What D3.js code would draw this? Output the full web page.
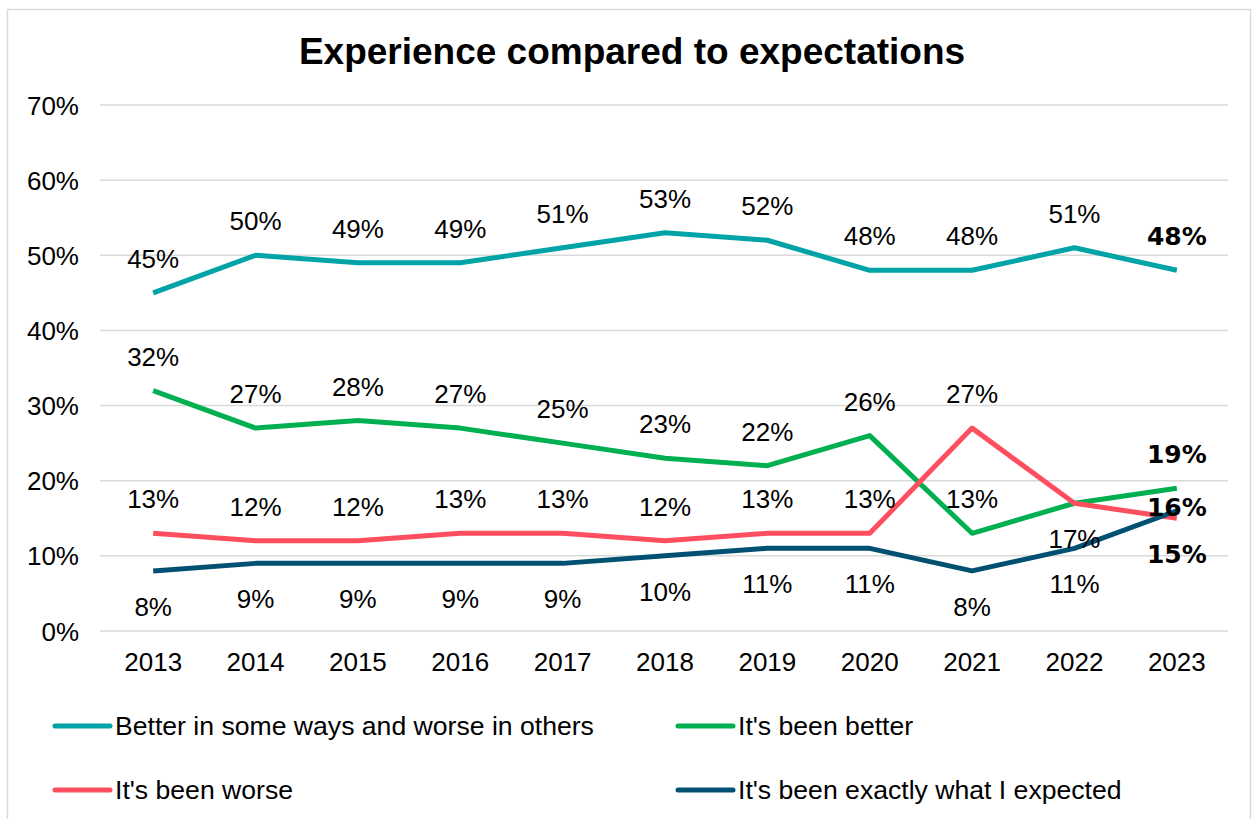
<!DOCTYPE html>
<html>
<head>
<meta charset="utf-8">
<script src="https://cdn.jsdelivr.net/npm/d3@7"></script>
<style>
	body { margin: 0; background: #fff; }
	svg { font-family: "Liberation Sans", Arial, sans-serif; }
	.grid line { stroke: #d9d9d9; stroke-width: 1.5; }
	.axis text { font-size: 26px; fill: #000; font-family: "Liberation Sans", Arial, sans-serif; }
	.lbl { font-size: 26px; fill: #000; }
	.lbl.last { font-family: "DejaVu Sans", sans-serif; font-weight: bold; font-size: 25px; }
</style>
</head>
<body>
<svg width="1255" height="819"></svg>
<script>
var years = ["2013","2014","2015","2016","2017","2018","2019","2020","2021","2022","2023"];
var mixed    = [45, 50, 49, 49, 51, 53, 52, 48, 48, 51, 48];
var better   = [32, 27, 28, 27, 25, 23, 22, 26, 13, 17, 19];
var worse    = [13, 12, 12, 13, 13, 12, 13, 13, 27, 17, 15];
var expected = [8, 9, 9, 9, 9, 10, 11, 11, 8, 11, 16];
var yTicks = [0, 10, 20, 30, 40, 50, 60, 70];

// where each label sits relative to its point: up, down, on, or none
var series = [
	{name: "Better in some ways and worse in others", values: mixed, color: "#00a3a6",
		pos: ["up","up","up","up","up","up","up","up","up","up","up"]},
	{name: "It's been better", values: better, color: "#00b050",
		pos: ["up","up","up","up","up","up","up","up","up","down","up"]},
	{name: "It's been worse", values: worse, color: "#ff4f5e",
		pos: ["up","up","up","up","up","up","up","up","up","none","down"]},
	{name: "It's been exactly what I expected", values: expected, color: "#005072",
		pos: ["down","down","down","down","down","down","down","down","down","down","on"]}
];

var svg = d3.select("svg"),
	width = +svg.attr("width"),
	height = +svg.attr("height");

svg.append("rect")
	.attr("x", 7.5).attr("y", 9.5)
	.attr("width", 1243).attr("height", 820)
	.attr("fill", "none")
	.attr("stroke", "#d9d9d9")
	.attr("stroke-width", 1.5);

svg.append("text")
	.attr("x", 632).attr("y", 64)
	.attr("text-anchor", "middle")
	.style("font-size", "37px")
	.style("font-weight", "bold")
	.text("Experience compared to expectations");

var x = d3.scaleBand()
	.domain(years)
	.range([102, 1228]);

var y = d3.scaleLinear()
	.domain([0, 70])
	.range([631, 105]);

var grid = svg.append("g").attr("class", "grid");
grid.selectAll("line")
	.data(yTicks).enter()
	.append("line")
	.attr("x1", 100).attr("x2", 1228)
	.attr("y1", function(d) { return y(d); })
	.attr("y2", function(d) { return y(d); });

var yAxis = svg.append("g")
	.attr("class", "axis")
	.attr("transform", "translate(79,0)")
	.call(d3.axisLeft(y).tickValues(yTicks).tickSize(0).tickPadding(0)
		.tickFormat(function(d) { return d + "%"; }));
yAxis.select(".domain").remove();
yAxis.selectAll("text").attr("dy", "0.35em");

var xAxis = svg.append("g")
	.attr("class", "axis")
	.attr("transform", "translate(0,631)")
	.call(d3.axisBottom(x).tickSize(0).tickPadding(22));
xAxis.select(".domain").remove();

var line = d3.line()
	.x(function(d, i) { return x(years[i]) + x.bandwidth() / 2; })
	.y(function(d) { return y(d); });

svg.append("g").selectAll("path")
	.data(series).enter()
	.append("path")
	.attr("d", function(s) { return line(s.values); })
	.attr("fill", "none")
	.attr("stroke", function(s) { return s.color; })
	.attr("stroke-width", 5)
	.attr("stroke-linejoin", "round");

var offsets = {up: -34, down: 36, on: -4};
series.forEach(function(s) {
	svg.append("g").selectAll("text")
		.data(s.values.map(function(v, i) { return {v: v, i: i, pos: s.pos[i]}; })
			.filter(function(d) { return d.pos !== "none"; }))
		.enter()
		.append("text")
		.attr("class", function(d) { return d.i === years.length - 1 ? "lbl last" : "lbl"; })
		.attr("x", function(d) { return x(years[d.i]) + x.bandwidth() / 2; })
		.attr("y", function(d) { return y(d.v) + offsets[d.pos]; })
		.attr("dy", "0.35em")
		.attr("text-anchor", "middle")
		.text(function(d) { return d.v + "%"; });
});

var legendPos = [[55, 726], [678, 726], [55, 790], [678, 790]];
var legend = svg.append("g").selectAll("g")
	.data(series).enter()
	.append("g")
	.attr("transform", function(d, i) { return "translate(" + legendPos[i][0] + "," + legendPos[i][1] + ")"; });
legend.append("line")
	.attr("x1", 0).attr("x2", 55)
	.attr("stroke", function(d) { return d.color; })
	.attr("stroke-width", 5)
	.attr("stroke-linecap", "round");
legend.append("text")
	.attr("x", 60)
	.attr("dy", "0.35em")
	.style("font-size", "26.6px")
	.text(function(d) { return d.name; });
</script>
</body>
</html>
